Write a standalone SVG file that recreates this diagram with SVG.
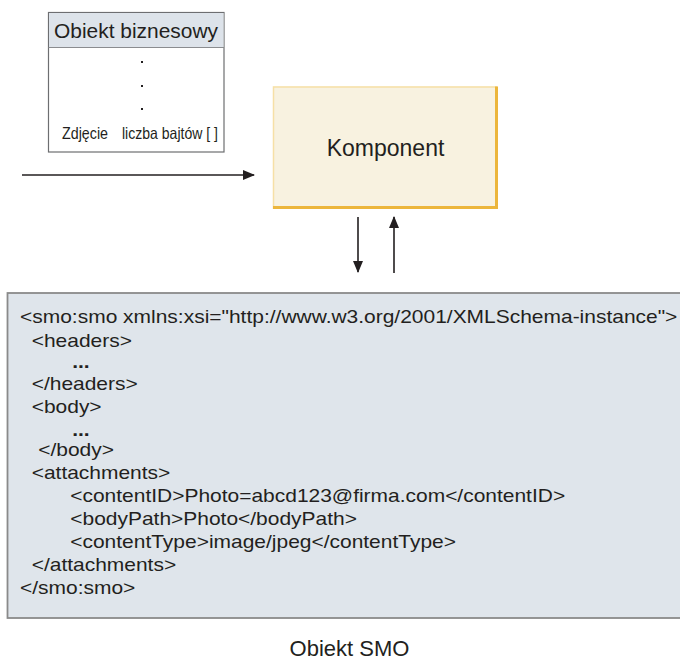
<svg xmlns="http://www.w3.org/2000/svg" width="680" height="662" viewBox="0 0 680 662">
<style>
text{font-family:"Liberation Sans",Arial,sans-serif;fill:#231f20}
.code{font-size:18px}
.dots{font-size:18px;font-weight:bold}
.line{stroke:#231f20;stroke-width:1.6;fill:none}
</style>
<defs>
<marker id="ah" markerWidth="12" markerHeight="10" refX="11" refY="5" orient="auto" markerUnits="userSpaceOnUse">
<path d="M0,0 L12,5 L0,10 Z" fill="#231f20"/>
</marker>
</defs>
<rect width="680" height="662" fill="#ffffff"/>
<g id="obiekt-biznesowy">
<rect x="48.5" y="12.5" width="175.5" height="139.5" fill="#ffffff" stroke="#6d6e71" stroke-width="1.2"/>
<rect x="49" y="13" width="174.5" height="34" fill="#dde3ea"/>
<line x1="48.5" y1="47.5" x2="224" y2="47.5" stroke="#8a8c8f" stroke-width="1"/>
<text x="136" y="38" font-size="20" text-anchor="middle" textLength="164" lengthAdjust="spacingAndGlyphs">Obiekt biznesowy</text>
<rect x="141" y="61" width="2" height="2" fill="#231f20"/>
<rect x="141" y="85" width="2" height="2" fill="#231f20"/>
<rect x="141" y="108" width="2" height="2" fill="#231f20"/>
<text x="62" y="139" font-size="16.5" textLength="46" lengthAdjust="spacingAndGlyphs">Zdjęcie</text>
<text x="122" y="139" font-size="16.5" textLength="96" lengthAdjust="spacingAndGlyphs">liczba bajtów [ ]</text>
</g>
<g id="komponent">
<rect x="273" y="86.5" width="225" height="122.5" fill="#f8f2e0"/>
<path d="M273.5,209 L273.5,87 L497,87" fill="none" stroke="#f6e0a6" stroke-width="1.5"/>
<path d="M496.5,86.5 L496.5,207.5 L273,207.5" fill="none" stroke="#ecb63c" stroke-width="3"/>
<text x="385.5" y="156" font-size="23" text-anchor="middle">Komponent</text>
</g>
<g id="obiekt-smo">
<rect x="7.5" y="293" width="680" height="325" fill="#dfe5eb" stroke="#8a8a8a" stroke-width="1.8"/>
<g transform="scale(1.165 1)">
<text class="code" x="17.2" y="323">&lt;smo:smo xmlns:xsi="http://www.w3.org/2001/XMLSchema-instance"&gt;</text>
<text class="code" x="27.2" y="347">&lt;headers&gt;</text>
<text class="dots" x="62" y="368">...</text>
<text class="code" x="27.2" y="390">&lt;/headers&gt;</text>
<text class="code" x="27.2" y="413">&lt;body&gt;</text>
<text class="dots" x="62" y="436">...</text>
<text class="code" x="32.8" y="456">&lt;/body&gt;</text>
<text class="code" x="27.2" y="479">&lt;attachments&gt;</text>
<text class="code" x="60.3" y="502">&lt;contentID&gt;Photo=abcd123@firma.com&lt;/contentID&gt;</text>
<text class="code" x="60.3" y="525">&lt;bodyPath&gt;Photo&lt;/bodyPath&gt;</text>
<text class="code" x="60.3" y="548">&lt;contentType&gt;image/jpeg&lt;/contentType&gt;</text>
<text class="code" x="27.2" y="571">&lt;/attachments&gt;</text>
<text class="code" x="17.2" y="594">&lt;/smo:smo&gt;</text>
</g>
<text x="349.5" y="656" font-size="22" text-anchor="middle">Obiekt SMO</text>
</g>
<g id="connectors">
<line class="line" x1="22" y1="175" x2="254" y2="175" marker-end="url(#ah)"/>
<line class="line" x1="358" y1="217" x2="358" y2="272" marker-end="url(#ah)"/>
<line class="line" x1="394" y1="273" x2="394" y2="217" marker-end="url(#ah)"/>
</g>
</svg>
